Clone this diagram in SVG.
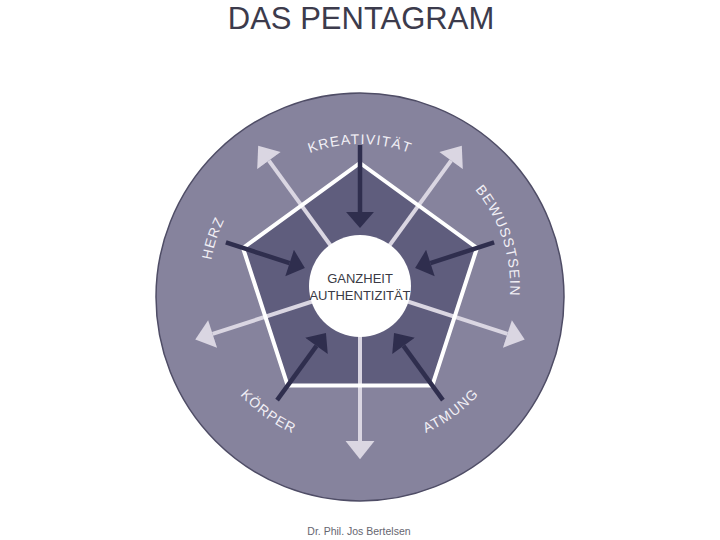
<svg xmlns="http://www.w3.org/2000/svg" width="720" height="540" viewBox="0 0 720 540">
  <style>
    .title { font-family: "Liberation Sans", Arial, sans-serif; font-size: 31px; fill: #3c3b4c; text-anchor: middle; }
    .lbl { font-family: "Liberation Sans", Arial, sans-serif; font-size: 14px; fill: #f2f0f6; letter-spacing: 1.2px; }
    .core { font-family: "Liberation Sans", Arial, sans-serif; font-size: 13px; fill: #3a3a44; text-anchor: middle; }
    .foot { font-family: "Liberation Sans", Arial, sans-serif; font-size: 10.5px; fill: #666670; text-anchor: middle; }
    .out { stroke: #dad6e2; stroke-width: 4; fill: none; marker-end: url(#headLight); }
    .in { stroke: #2f2e4e; stroke-width: 4.5; fill: none; marker-end: url(#headDark); }
  </style>
  <defs>
    <marker id="headLight" markerUnits="userSpaceOnUse" markerWidth="20" markerHeight="30" viewBox="0 -14 18 28" refX="0" refY="0" orient="auto">
      <path d="M0,-13.5 L17,0 L0,13.5 Z" fill="#dad6e2"/>
    </marker>
    <marker id="headDark" markerUnits="userSpaceOnUse" markerWidth="18" markerHeight="30" viewBox="0 -14 16 28" refX="0" refY="0" orient="auto">
      <path d="M0,-13 L15,0 L0,13 Z" fill="#2f2e4e"/>
    </marker>
    <path id="pK" d="M237,215 A142,142 0 0 1 483,215"/>
    <path id="pB" d="M391.2,139.3 A150,150 0 0 1 471.5,386.4"/>
    <path id="pH" d="M247.8,387 A151,151 0 0 1 328.6,138.3"/>
    <path id="pKo" d="M198.9,269.1 A162,162 0 0 0 425.9,434"/>
    <path id="pA" d="M294.5,433.1 A161,161 0 0 0 520.1,269.2"/>
  </defs>
  <rect width="720" height="540" fill="#ffffff"/>
  <g id="title"><text class="title" x="361" y="29">DAS PENTAGRAM</text></g>
  <g id="disc"><circle cx="360" cy="297" r="204" fill="#86839d" stroke="#4f4d66" stroke-width="1.5"/></g>
  <g id="pentagon"><polygon points="360,163 477,248 432.3,385.5 287.7,385.5 243,248" fill="#5f5d7d"/></g>
  <g id="connectors">
    <line class="out" x1="360" y1="286" x2="451.1" y2="160.6"/>
    <line class="out" x1="360" y1="286" x2="507.4" y2="333.9"/>
    <line class="out" x1="360" y1="286" x2="360" y2="441"/>
    <line class="out" x1="360" y1="286" x2="212.6" y2="333.9"/>
    <line class="out" x1="360" y1="286" x2="268.9" y2="160.6"/>
    <polygon points="360,163 477,248 432.3,385.5 287.7,385.5 243,248" fill="none" stroke="#ffffff" stroke-width="4"/>
    <line class="in" x1="360" y1="145" x2="360" y2="212"/>
    <line class="in" x1="494.1" y1="242.4" x2="430.4" y2="263.1"/>
    <line class="in" x1="442.9" y1="400.1" x2="403.5" y2="345.9"/>
    <line class="in" x1="277.1" y1="400.1" x2="316.5" y2="345.9"/>
    <line class="in" x1="225.9" y1="242.4" x2="289.6" y2="263.1"/>
  </g>
  <g id="center">
    <circle cx="360" cy="286" r="51" fill="#ffffff"/>
    <text class="core" x="360" y="283">GANZHEIT</text>
    <text class="core" x="360" y="300">AUTHENTIZITÄT</text>
  </g>
  <g id="kreativitaet"><text class="lbl"><textPath href="#pK" startOffset="50%" text-anchor="middle">KREATIVITÄT</textPath></text></g>
  <g id="bewusstsein"><text class="lbl"><textPath href="#pB" startOffset="50%" text-anchor="middle">BEWUSSTSEIN</textPath></text></g>
  <g id="herz"><text class="lbl"><textPath href="#pH" startOffset="50%" text-anchor="middle">HERZ</textPath></text></g>
  <g id="koerper"><text class="lbl"><textPath href="#pKo" startOffset="50%" text-anchor="middle">KÖRPER</textPath></text></g>
  <g id="atmung"><text class="lbl"><textPath href="#pA" startOffset="50%" text-anchor="middle">ATMUNG</textPath></text></g>
  <g id="footer"><text class="foot" x="359" y="535">Dr. Phil. Jos Bertelsen</text></g>
</svg>
